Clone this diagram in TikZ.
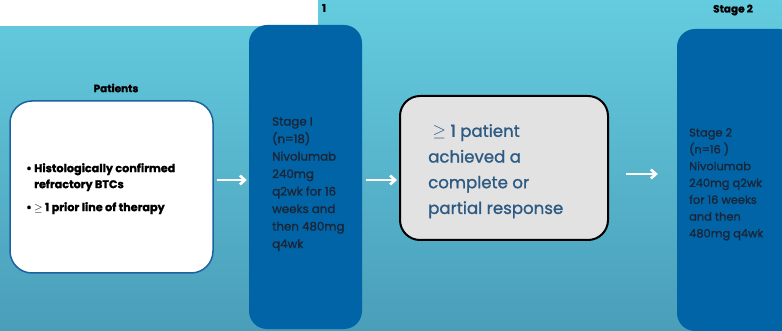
\documentclass[tikz,border=0pt]{standalone}
\usepackage{fontspec}
\setmainfont{Poppins}[RawFeature={embolden=1.2}]
\usetikzlibrary{positioning,arrows.meta}

\definecolor{skytop}{HTML}{64CCDF}
\definecolor{skymid}{HTML}{5BC1D8}
\definecolor{skybot}{HTML}{4A9EB9}
\definecolor{armblue}{HTML}{0064A7}
\definecolor{armtext}{HTML}{1B2535}
\definecolor{rimblue}{HTML}{1D62A0}
\definecolor{respgray}{HTML}{E2E2E2}
\definecolor{resptext}{HTML}{2D5A82}

\begin{document}
\begin{tikzpicture}[x=1pt, y=-1pt,
    arm/.style={fill=armblue, draw=none, rounded corners=18pt, inner sep=0pt},
    armlines/.style={text=armtext, align=left, inner sep=0pt, anchor=north west,
        font=\fontsize{11.8}{17.5}\selectfont},
    flow/.style={draw=white, line width=2.6pt, -{Straight Barb[length=5pt,width=9pt]}},
    heading/.style={font=\bfseries\fontsize{10.5}{12}\selectfont, inner sep=0pt}]

    \useasboundingbox (0,0) rectangle (782,331);

    % Backdrop
    \shade[top color=skytop, middle color=skymid, bottom color=skybot] (0,0) rectangle (782,331);
    \fill[white] (0,0) rectangle (318,26);

    % Headings
    \node[heading] (one) at (324,8) {1};
    \node[heading] (stagetwo) at (733,10) {Stage 2};
    \node[heading] (patlabel) at (116,88) {Patients};

    % Patients box
    \node[fill=white, draw=rimblue, line width=1.5pt, rounded corners=22pt,
          minimum width=203pt, minimum height=172pt, inner sep=0pt] (patients) at (111.5,187) {};
    \node[anchor=north west, align=left, inner sep=0pt,
          font=\bfseries\fontsize{11.2}{17}\selectfont] (criteria) at (26,163)
        {\textbullet\ Histologically confirmed\\[-1pt]
         \phantom{\textbullet\ }refractory BTCs\\[6pt]
         \textbullet\ $\geq$ 1 prior line of therapy};

    % Stage 1 arm
    \node[arm, minimum width=113pt, minimum height=304pt] (stage1) at (305.5,177) {};
    \node[armlines] (stage1txt) at (272,117)
        {Stage I\\(n=18)\\Nivolumab\\240mg\\q2wk for 16\\weeks and\\then 480mg\\q4wk};

    % Response check
    \node[fill=respgray, draw=black, line width=2pt, rounded corners=20pt,
          minimum width=208pt, minimum height=144pt, inner sep=0pt] (resp) at (504,168) {};
    \node[anchor=north west, align=left, inner sep=0pt, text=resptext,
          font=\fontsize{16.6}{25.7}\selectfont] (resptxt) at (428,124)
        {\ $\geq$ 1 patient\\achieved a\\complete or\\partial response};

    % Stage 2 arm
    \node[arm, minimum width=120pt, minimum height=302pt] (stage2) at (737,180) {};
    \node[armlines, font=\fontsize{11.4}{16.8}\selectfont] (stage2txt) at (689,128)
        {Stage 2\\(n=16 )\\Nivolumab\\240mg q2wk\\for 16 weeks\\and then\\480mg q4wk};

    % Arrows
    \draw[flow, shorten <=3pt, shorten >=2pt] ([yshift=7pt]patients.east) -- ([yshift=7pt]patients.east -| stage1.west);
    \draw[flow, shorten <=4pt, shorten >=2pt] ([yshift=-3pt]stage1.east) -- ([yshift=-3pt]stage1.east -| resp.west);
    \draw[flow, shorten <=17pt, shorten >=19pt] ([yshift=-6pt]resp.east) -- ([yshift=-6pt]resp.east -| stage2.west);
\end{tikzpicture}
\end{document}
